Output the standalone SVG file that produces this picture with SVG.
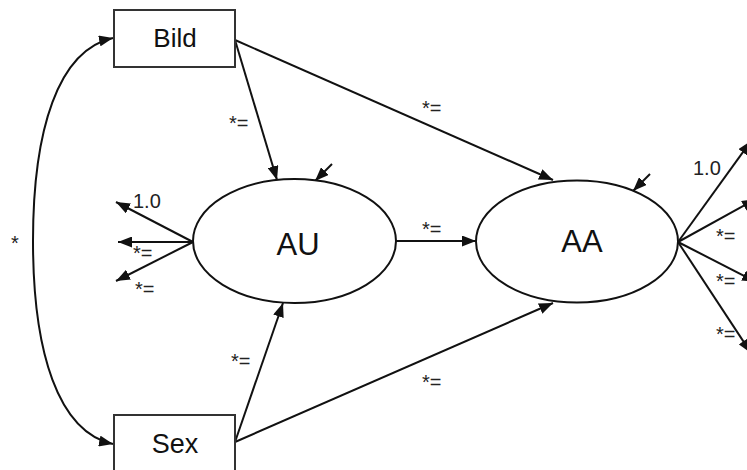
<svg xmlns="http://www.w3.org/2000/svg" width="747" height="470" viewBox="0 0 747 470">
<style>
.box{fill:#fff;stroke:#333;stroke-width:2}
.ell{fill:#fff;stroke:#111;stroke-width:2}
.node{font-family:"Liberation Sans",Arial,sans-serif;fill:#111;text-anchor:middle}
.lbl{font-family:"Liberation Sans",Arial,sans-serif;font-size:20px;fill:#222}
.c{fill:none;stroke:#111;stroke-width:2}
</style>
<defs>
<marker id="ah" viewBox="0 0 14 11" refX="14" refY="5.5" markerWidth="14" markerHeight="11" markerUnits="userSpaceOnUse" orient="auto-start-reverse">
<path d="M0,0 L14,5.5 L0,11 Z" fill="#111"/>
</marker>
</defs>
<rect width="747" height="470" fill="#fff"/>
<g id="connectors">
<path class="c" d="M113,38 C58,50 33,130 33,241 C33,352 58,432 113,444" marker-start="url(#ah)" marker-end="url(#ah)"/>
<line class="c" x1="235" y1="40" x2="277" y2="180" marker-end="url(#ah)"/>
<line class="c" x1="235" y1="40" x2="553" y2="180" marker-end="url(#ah)"/>
<line class="c" x1="235" y1="442" x2="283" y2="303" marker-end="url(#ah)"/>
<line class="c" x1="235" y1="442" x2="553" y2="303" marker-end="url(#ah)"/>
<line class="c" x1="396" y1="241" x2="476" y2="241" marker-end="url(#ah)"/>
<line class="c" x1="332" y1="164" x2="315" y2="181" marker-end="url(#ah)"/>
<line class="c" x1="650" y1="174" x2="633" y2="191" marker-end="url(#ah)"/>
<line class="c" x1="193" y1="242" x2="116" y2="202" marker-end="url(#ah)"/>
<line class="c" x1="193" y1="242" x2="118" y2="242" marker-end="url(#ah)"/>
<line class="c" x1="193" y1="242" x2="116" y2="281" marker-end="url(#ah)"/>
<line class="c" x1="678" y1="242" x2="751" y2="141" marker-end="url(#ah)"/>
<line class="c" x1="678" y1="242" x2="756" y2="199" marker-end="url(#ah)"/>
<line class="c" x1="678" y1="242" x2="756" y2="282" marker-end="url(#ah)"/>
<line class="c" x1="678" y1="242" x2="751" y2="353" marker-end="url(#ah)"/>
</g>
<g id="bild"><rect class="box" x="114" y="10" width="121" height="57"/><text class="node" x="175" y="47" font-size="26">Bild</text></g>
<g id="sex"><rect class="box" x="114" y="415" width="121" height="60"/><text class="node" x="175" y="453" font-size="27">Sex</text></g>
<g id="au"><ellipse class="ell" cx="294.5" cy="241" rx="101.5" ry="62"/><text class="node" x="298" y="255" font-size="31">AU</text></g>
<g id="aa"><ellipse class="ell" cx="577" cy="241.5" rx="101" ry="61"/><text class="node" x="582" y="252" font-size="31">AA</text></g>
<g id="labels">
<text class="lbl" x="11" y="250">*</text>
<text class="lbl" x="229" y="130">*=</text>
<text class="lbl" x="422" y="115">*=</text>
<text class="lbl" x="422" y="236">*=</text>
<text class="lbl" x="231" y="368">*=</text>
<text class="lbl" x="422" y="389">*=</text>
<text class="lbl" x="133" y="208" font-size="21">1.0</text>
<text class="lbl" x="133" y="260">*=</text>
<text class="lbl" x="135" y="296">*=</text>
<text class="lbl" x="693" y="175" font-size="21">1.0</text>
<text class="lbl" x="716" y="243">*=</text>
<text class="lbl" x="716" y="288">*=</text>
<text class="lbl" x="716" y="341">*=</text>
</g>
</svg>
